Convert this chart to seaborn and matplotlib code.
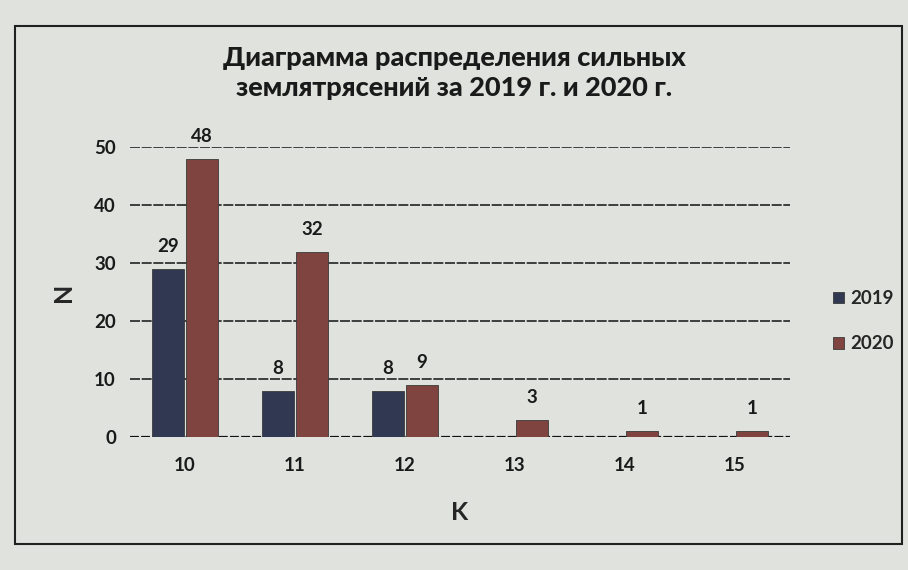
import matplotlib
matplotlib.use("Agg")
import matplotlib.pyplot as plt
import numpy as np
import pandas as pd
import seaborn as sns
from matplotlib.patches import Rectangle

K_CLASSES = ["10", "11", "12", "13", "14", "15"]
N_2019 = [29, 8, 8, np.nan, np.nan, np.nan]
N_2020 = [48, 32, 9, 3, 1, 1]
YEARS = ["2019", "2020"]
COLORS = ["#2c3556", "#8a3a35"]
Y_TICKS = [0, 10, 20, 30, 40, 50]

df = pd.DataFrame(
    {
        "K": K_CLASSES * 2,
        "N": N_2019 + N_2020,
        "year": [YEARS[0]] * len(K_CLASSES) + [YEARS[1]] * len(K_CLASSES),
    }
)

sns.set_theme(style="white")
plt.rcParams["font.family"] = ["Lato", "DejaVu Sans"]

BG = "#dfe2dd"
fig = plt.figure(figsize=(9.08, 5.70), dpi=100, facecolor=BG)
ax = fig.add_axes([0.143, 0.233, 0.727, 0.509])
ax.set_facecolor(BG)

sns.barplot(
    data=df, x="K", y="N", hue="year", order=K_CLASSES, hue_order=YEARS,
    palette=COLORS, width=0.62, gap=0.05, edgecolor="#3a3a3a", linewidth=0.6,
    ax=ax, legend=True,
)

ax.set_ylim(0, 50)
ax.set_yticks(Y_TICKS)
for y in Y_TICKS[1:]:
    ax.axhline(y, color="#222222", linewidth=1.2, linestyle=(0, (6, 1)), zorder=0)
ax.axhline(0, color="#111111", linewidth=1.6, linestyle=(0, (4, 1)), zorder=0.5)

for container in ax.containers:
    labels = ["" if np.isnan(v) else f"{int(v)}" for v in container.datavalues]
    ax.bar_label(container, labels=labels, padding=10, fontsize=13.5,
                 fontweight="bold", color="#1a1a1a")

for s in ax.spines.values():
    s.set_visible(False)
ax.tick_params(axis="both", length=0, labelsize=13.5, pad=14, colors="#1a1a1a")
ax.tick_params(axis="y", pad=10)
for t in ax.get_xticklabels() + ax.get_yticklabels():
    t.set_fontweight("bold")
ax.set_xlabel("K", fontsize=18, fontweight="bold", labelpad=20)
ax.set_ylabel("N", fontsize=18, fontweight="bold", labelpad=14)

leg = ax.legend(
    loc="center left", bbox_to_anchor=(1.04, 0.4), frameon=False,
    fontsize=13.5, handlelength=0.6, handleheight=0.6, handletextpad=0.3,
    labelspacing=1.5,
)
for t in leg.get_texts():
    t.set_fontweight("bold")

fig.text(0.5, 0.872, "Диаграмма распределения сильных\nземлятрясений за 2019 г. и 2020 г.",
         ha="center", va="center", fontsize=19.5, fontweight="black",
         linespacing=1.3, color="#1a1a1a")

fig.patches.append(Rectangle((0.017, 0.045), 0.976, 0.91, transform=fig.transFigure,
                             fill=False, edgecolor="#202020", linewidth=1.5))

fig.savefig("out.png", dpi=100, facecolor=BG)
